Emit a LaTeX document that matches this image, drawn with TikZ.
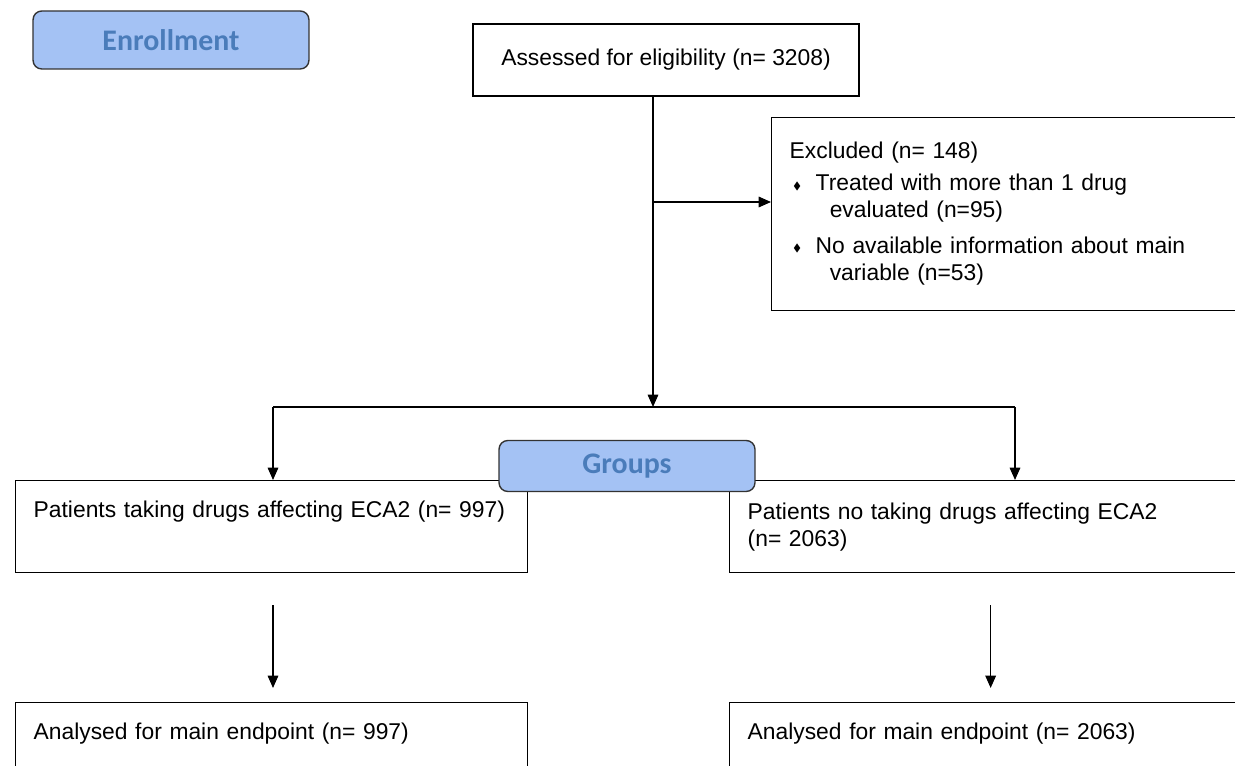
\documentclass[tikz,border=0pt]{standalone}
\usepackage{amssymb}
\usepackage{fontspec}
\setmainfont{Liberation Sans}
\newfontfamily\calib{Carlito}
\usetikzlibrary{arrows.meta,positioning}
\definecolor{phase}{HTML}{A4C2F4}
\definecolor{phasetext}{HTML}{4A7CBA}
\newcommand{\bul}{\makebox[14.8pt][l]{\hspace{2pt}\raisebox{1pt}{\fontsize{6}{6}\selectfont$\blacklozenge$}}}

\begin{document}
\begin{tikzpicture}[x=0.02cm,y=-0.02cm,
    font=\fontsize{13}{15.4}\selectfont,
    >={Triangle[width=6pt,length=7pt]},
    flow/.style={->,line width=0.8pt},
    box/.style={draw,line width=0.8pt,rectangle,anchor=north west,align=left,inner xsep=0.36cm,inner ysep=0pt},
    phasebox/.style={draw=black!80,line width=0.8pt,fill=phase,rounded corners=5pt,inner sep=0pt,
        text=phasetext,font=\calib\bfseries\fontsize{17}{20}\selectfont}]
    \useasboundingbox (0,0) rectangle (1235,766);
    \clip (0,0) rectangle (1235,766);

    % Enrollment
    \node[phasebox,minimum width=5.52cm,minimum height=1.16cm] (enroll) at (171,40) {Enrollment};
    \node[box,anchor=center,align=center,minimum width=7.72cm,minimum height=1.44cm] (assess) at (666,60)
        {Assessed for eligibility (n= 3208)};
    \node[box,text width=9.06cm,minimum height=3.86cm] (excl) at (771,117)
        {Excluded (n= 148)\\[2.8pt]
        \bul Treated with more than 1 drug\\
        \hspace*{22.8pt}evaluated (n=95)\\[4.6pt]
        \bul No available information about main\\
        \hspace*{22.8pt}variable (n=53)\\[-12pt]\mbox{}};

    % Groups
    \node[box,text width=9.52cm,minimum height=1.84cm] (grpA) at (15,480)
        {Patients taking drugs affecting ECA2 (n= 997)\\ \strut};
    \node[box,text width=9.72cm,minimum height=1.84cm] (grpB) at (729,480)
        {Patients no taking drugs affecting ECA2\\(n= 2063)};
    \node[phasebox,minimum width=5.12cm,minimum height=1.02cm] (groups) at (627,466) {Groups};

    \node[box,text width=9.52cm,minimum height=1.84cm] (endA) at (15,702)
        {Analysed for main endpoint (n= 997)\\ \strut};
    \node[box,text width=9.72cm,minimum height=1.84cm] (endB) at (729,702)
        {Analysed for main endpoint (n= 2063)\\ \strut};

    \coordinate (split) at (653,202);
    \coordinate (fork) at (653,407);
    \coordinate (forkL) at (273,407);
    \coordinate (forkR) at (1015,407);

    \draw[flow] (assess.south -| fork) -- (fork);
    \draw[flow] (split) -- (split -| excl.west);
    \draw[line width=0.8pt] (forkL) -- (forkR);
    \draw[flow] (forkL) -- (forkL |- grpA.north);
    \draw[flow] (forkR) -- (forkR |- grpB.north);
    \draw[flow,shorten <=0.64cm,shorten >=0.28cm] (grpA.south -| forkL) -- (endA.north -| forkL);
    \draw[flow,shorten <=0.64cm,shorten >=0.28cm] (grpB.south) -- (endB.north);
\end{tikzpicture}
\end{document}
